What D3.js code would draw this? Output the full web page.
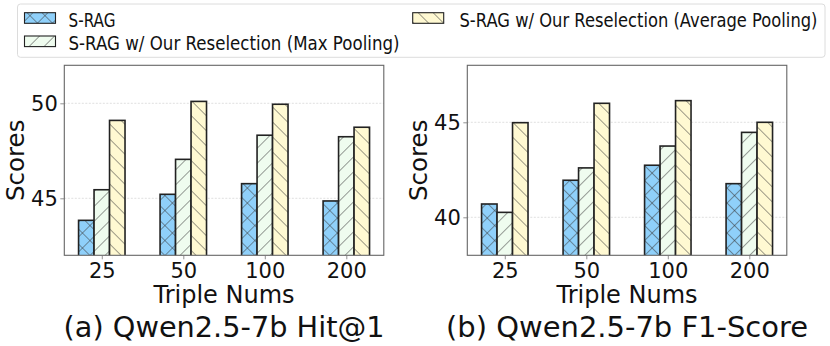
<!DOCTYPE html>
<html><head><meta charset="utf-8">
<script src="https://cdn.jsdelivr.net/npm/d3@7"></script>
<style>
html,body{margin:0;padding:0;background:#fff;}
svg{display:block;font-family:"DejaVu Sans",sans-serif;}
</style></head>
<body><svg id="chart" width="830" height="346"></svg>
<script>
const categories = ["25", "50", "100", "200"];
const seriesNames = ["S-RAG", "S-RAG w/ Our Reselection (Max Pooling)", "S-RAG w/ Our Reselection (Average Pooling)"];
const hitSRAG = [43.84, 45.21, 45.77, 44.86];
const hitMax  = [45.45, 47.05, 48.32, 48.24];
const hitAvg  = [49.10, 50.10, 49.95, 48.74];
const f1SRAG  = [40.70, 41.95, 42.74, 41.77];
const f1Max   = [40.26, 42.60, 43.75, 44.47];
const f1Avg   = [44.98, 46.00, 46.14, 45.00];
const hitTicks = [45, 50];
const f1Ticks = [40, 45];
const hitDomain = [42, 52];
const f1Domain = [38, 48];
const xLabel = "Triple Nums";
const yLabel = "Scores";
const panelTitles = ["(a) Qwen2.5-7b Hit@1", "(b) Qwen2.5-7b F1-Score"];

const colors = ["#8fd0fa", "#effcef", "#fff9d2"];
const svg = d3.select("#chart");
const defs = svg.append("defs");

function makeHatch(id, fill, kind) {
  const s = 10.6;
  const p = defs.append("pattern").attr("id", id)
    .attr("patternUnits", "userSpaceOnUse").attr("width", s).attr("height", s)
    .attr("patternTransform", kind === "back" ? "rotate(-45)" : "rotate(45)");
  p.append("rect").attr("width", s).attr("height", s).attr("fill", fill);
  p.append("line").attr("x1", 0).attr("y1", 0).attr("x2", 0).attr("y2", s)
    .attr("stroke", "#3a3a3a").attr("stroke-width", 1);
  if (kind === "cross") {
    p.append("line").attr("x1", 0).attr("y1", 0).attr("x2", s).attr("y2", 0)
      .attr("stroke", "#3a3a3a").attr("stroke-width", 1);
  }
}
makeHatch("h0", colors[0], "cross");
makeHatch("h1", colors[1], "fwd");
makeHatch("h2", colors[2], "back");

const panels = [
  {left: 64.3, series: [hitSRAG, hitMax, hitAvg], ticks: hitTicks, domain: hitDomain, title: panelTitles[0], titleLen: 321},
  {left: 467.3, series: [f1SRAG, f1Max, f1Avg], ticks: f1Ticks, domain: f1Domain, title: panelTitles[1], titleLen: 362}
];
const plotW = 319.5, plotTop = 65.3, plotBottom = 255.3;
const barW = 0.19;

panels.forEach((pn, pi) => {
  const g = svg.append("g");
  const x = d3.scaleLinear().domain([-0.46, 3.46]).range([pn.left, pn.left + plotW]);
  const y = d3.scaleLinear().domain(pn.domain).range([plotBottom, plotTop]);
  const cid = "clip" + pi;
  defs.append("clipPath").attr("id", cid).append("rect")
    .attr("x", pn.left).attr("y", plotTop).attr("width", plotW).attr("height", plotBottom - plotTop);

  g.selectAll(".grid").data(pn.ticks).join("line")
    .attr("x1", pn.left).attr("x2", pn.left + plotW)
    .attr("y1", d => y(d)).attr("y2", d => y(d))
    .attr("stroke", "#d8d8d8").attr("stroke-width", 0.8).attr("stroke-dasharray", "2,1.5");

  const bg = g.append("g").attr("clip-path", `url(#${cid})`);
  pn.series.forEach((vals, si) => {
    bg.selectAll(".b" + si).data(vals).join("rect")
      .attr("x", (d, i) => x(i + (si - 1) * barW - barW / 2))
      .attr("width", x(barW) - x(0))
      .attr("y", d => y(d))
      .attr("height", d => y(pn.domain[0]) - y(d) + 5)
      .attr("fill", `url(#h${si})`)
      .attr("stroke", "#222").attr("stroke-width", 1.6);
  });

  g.append("rect").attr("x", pn.left).attr("y", plotTop).attr("width", plotW).attr("height", plotBottom - plotTop)
    .attr("fill", "none").attr("stroke", "#666").attr("stroke-width", 1.1);

  const xa = g.append("g").attr("transform", `translate(0,${plotBottom})`)
    .call(d3.axisBottom(x).tickValues([0, 1, 2, 3]).tickFormat(i => categories[i]).tickSizeInner(4).tickSizeOuter(0).tickPadding(4));
  const ya = g.append("g").attr("transform", `translate(${pn.left},0)`)
    .call(d3.axisLeft(y).tickValues(pn.ticks).tickSizeInner(4).tickSizeOuter(0).tickPadding(2.5));
  [xa, ya].forEach(a => {
    a.select(".domain").remove();
    a.selectAll(".tick line").attr("stroke", "#777").attr("stroke-width", 0.8);
    a.selectAll(".tick text").attr("font-size", 21).attr("fill", "#111")
      .attr("font-family", "DejaVu Sans");
  });
  xa.selectAll(".tick text").attr("dy", null).attr("y", 23);
  ya.selectAll(".tick text").attr("dy", "0.36em");

  const cx = pn.left + plotW / 2;
  g.append("text").attr("x", cx).attr("y", 303.3).attr("text-anchor", "middle")
    .attr("font-size", 24).attr("fill", "#111").text(xLabel);
  g.append("text").attr("transform", `translate(${pn.left - 40},${(plotTop + plotBottom) / 2}) rotate(-90)`)
    .attr("text-anchor", "middle").attr("font-size", 24.5).attr("fill", "#111").text(yLabel);
  g.append("text").attr("x", cx).attr("y", 337.3).attr("text-anchor", "middle")
    .attr("font-size", 29).attr("fill", "#111")
    .attr("textLength", pn.titleLen).attr("lengthAdjust", "spacingAndGlyphs").text(pn.title);
});

const lg = svg.append("g");
lg.append("rect").attr("x", 17.5).attr("y", 4).attr("width", 807.5).attr("height", 53.3)
  .attr("rx", 3).attr("fill", "#fff").attr("stroke", "#dcdcdc").attr("stroke-width", 1);
const entries = [
  {si: 0, px: 24.5, tx: 68.5, cy: 18, base: 26.6, len: 47},
  {si: 1, px: 24.5, tx: 68.5, cy: 41.3, base: 49.9, len: 331},
  {si: 2, px: 412.7, tx: 459.5, cy: 18, base: 26.6, len: 358}
];
entries.forEach(e => {
  lg.append("rect").attr("x", e.px).attr("y", e.cy - 5.3).attr("width", 31).attr("height", 10.6)
    .attr("fill", `url(#h${e.si})`).attr("stroke", "#222").attr("stroke-width", 1.1);
  lg.append("text").attr("transform", `translate(${e.tx},${e.base}) scale(1,1.17)`)
    .attr("font-size", 16.2)
    .attr("font-family", "'DejaVu Sans',sans-serif")
    .attr("fill", "#111").attr("textLength", e.len).attr("lengthAdjust", "spacingAndGlyphs")
    .text(seriesNames[e.si]);
});
</script></body></html>
